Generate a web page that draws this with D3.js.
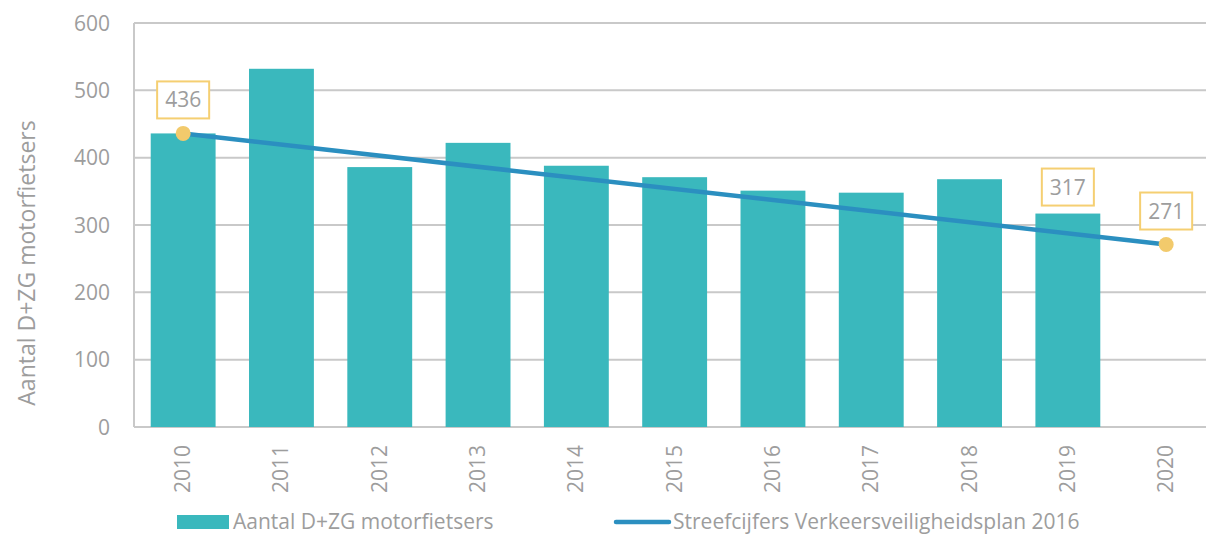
<!DOCTYPE html>
<html>
<head>
<meta charset="utf-8">
<script src="https://cdn.jsdelivr.net/npm/d3@7"></script>
<style>
  body { margin: 0; background: #fff; }
  text { font-family: "Open Sans", Lato, sans-serif; fill: #9d9d9d; }
</style>
</head>
<body>
<div id="chart"></div>
<script>
const years = ['2010', '2011', '2012', '2013', '2014', '2015', '2016', '2017', '2018', '2019', '2020'];
const barValues = [436, 532, 386, 422, 388, 371, 351, 348, 368, 317, null];
const targetYears = ['2010', '2020'];
const targetValues = [436, 271];
const yTicks = [0, 100, 200, 300, 400, 500, 600];
const labelled = [
    { year: '2010', value: 436, onLine: true },
    { year: '2019', value: 317, onLine: false },
    { year: '2020', value: 271, onLine: true }
];

const width = 1206, height = 535;
const plotLeft = 134, plotTop = 23, plotBottom = 427;

const svg = d3.select('#chart')
    .append('svg')
    .attr('width', width)
    .attr('height', height);

let x = d3.scaleBand()
    .domain(years)
    .range([plotLeft, plotLeft + 11 * 98.3])
    .paddingInner(0.34)
    .paddingOuter(0.17);

let y = d3.scaleLinear()
    .domain([0, 600])
    .range([plotBottom, plotTop]);

// grid
svg.append('g')
    .selectAll('line')
    .data(yTicks)
    .enter()
    .append('line')
    .attr('x1', plotLeft)
    .attr('x2', width)
    .attr('y1', d => y(d))
    .attr('y2', d => y(d))
    .attr('stroke', '#c9c9c9')
    .attr('stroke-width', 2);

svg.append('line')
    .attr('x1', plotLeft).attr('x2', plotLeft)
    .attr('y1', plotTop).attr('y2', plotBottom)
    .attr('stroke', '#c9c9c9')
    .attr('stroke-width', 2);

// y tick labels
svg.append('g')
    .selectAll('text')
    .data(yTicks)
    .enter()
    .append('text')
    .attr('x', 110)
    .attr('y', d => y(d))
    .attr('dy', '0.36em')
    .attr('text-anchor', 'end')
    .style('font-size', '21px')
    .text(d => d);

// y title
svg.append('text')
    .attr('transform', 'translate(35,' + ((plotTop + plotBottom) / 2 + 38) + ') rotate(-90)')
    .attr('text-anchor', 'middle')
    .style('font-size', '23px')
    .text('Aantal D+ZG motorfietsers');

// bars
svg.append('g')
    .selectAll('rect')
    .data(years.map((d, i) => ({ year: d, value: barValues[i] })).filter(d => d.value !== null))
    .enter()
    .append('rect')
    .attr('x', d => x(d.year))
    .attr('width', x.bandwidth())
    .attr('y', d => y(d.value))
    .attr('height', d => y(0) - y(d.value))
    .attr('fill', '#3ab8bd');

// x labels
svg.append('g')
    .selectAll('text')
    .data(years)
    .enter()
    .append('text')
    .attr('transform', d => 'translate(' + (x(d) + x.bandwidth() / 2 + 7) + ',445) rotate(-90)')
    .attr('text-anchor', 'end')
    .style('font-size', '21px')
    .text(d => d);

// target line
const line = d3.line()
    .x(d => x(d.year) + x.bandwidth() / 2)
    .y(d => y(d.value));

const targetData = targetYears.map((d, i) => ({ year: d, value: targetValues[i] }));

svg.append('path')
    .datum(targetData)
    .attr('d', line)
    .attr('fill', 'none')
    .attr('stroke', '#2b8fc0')
    .attr('stroke-width', 4.5);

svg.append('g')
    .selectAll('circle')
    .data(targetData)
    .enter()
    .append('circle')
    .attr('cx', d => x(d.year) + x.bandwidth() / 2)
    .attr('cy', d => y(d.value))
    .attr('r', 7.5)
    .attr('fill', '#f2ca6c');

// data labels
const lab = svg.append('g')
    .selectAll('g')
    .data(labelled)
    .enter()
    .append('g')
    .attr('transform', d => 'translate(' + (x(d.year) + x.bandwidth() / 2) + ',' + (y(d.value) - (d.onLine ? 15 : 8) - 18.5) + ')');

lab.append('text')
    .attr('text-anchor', 'middle')
    .attr('dy', '0.36em')
    .style('font-size', '21px')
    .text(d => d.value);

lab.insert('rect', 'text')
    .each(function () {
        const bb = this.parentNode.querySelector('text').getBBox();
        d3.select(this)
            .attr('x', -bb.width / 2 - 8)
            .attr('y', -18.5)
            .attr('width', bb.width + 16)
            .attr('height', 37);
    })
    .attr('fill', '#fff')
    .attr('stroke', '#f5cf72')
    .attr('stroke-width', 2);

// legend
svg.append('rect')
    .attr('x', 177).attr('y', 515)
    .attr('width', 52).attr('height', 14)
    .attr('fill', '#3ab8bd');

svg.append('text')
    .attr('x', 233).attr('y', 529)
    .style('font-size', '21px')
    .text('Aantal D+ZG motorfietsers');

svg.append('line')
    .attr('x1', 616).attr('x2', 669)
    .attr('y1', 522).attr('y2', 522)
    .attr('stroke', '#2b8fc0')
    .attr('stroke-width', 4.5)
    .attr('stroke-linecap', 'round');

svg.append('text')
    .attr('x', 673).attr('y', 529)
    .style('font-size', '21px')
    .text('Streefcijfers Verkeersveiligheidsplan 2016');
</script>
</body>
</html>
